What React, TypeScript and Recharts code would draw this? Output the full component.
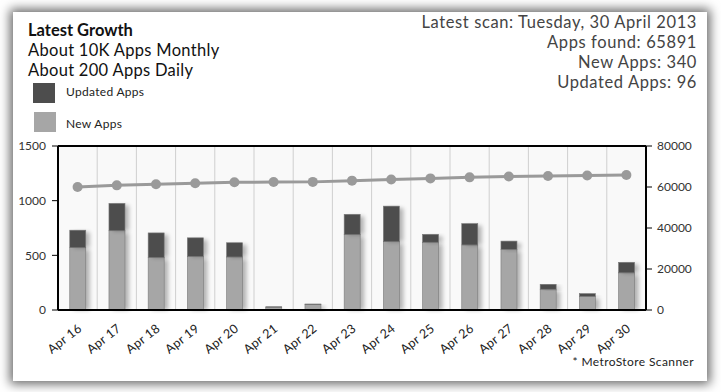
import React from 'react';
import { ComposedChart, Bar, Line, XAxis, YAxis, CartesianGrid, ReferenceLine } from 'recharts';

const days = ['Apr 16', 'Apr 17', 'Apr 18', 'Apr 19', 'Apr 20', 'Apr 21', 'Apr 22', 'Apr 23', 'Apr 24', 'Apr 25', 'Apr 26', 'Apr 27', 'Apr 28', 'Apr 29', 'Apr 30'];
const newApps = [570, 725, 480, 490, 485, 25, 50, 690, 625, 620, 595, 555, 190, 125, 340];
const updatedApps = [160, 250, 225, 170, 130, 5, 5, 185, 325, 72, 195, 75, 45, 25, 96];
const appsFound = [60000, 60800, 61300, 61800, 62300, 62400, 62500, 63100, 63700, 64200, 64700, 65100, 65400, 65600, 65891];
const leftTicks = [0, 500, 1000, 1500];
const rightTicks = [0, 20000, 40000, 60000, 80000];

const data = days.map((d, i) => ({ day: d, newApps: newApps[i], updated: updatedApps[i], found: appsFound[i] }));

const FONT = "Lato, 'DejaVu Sans', sans-serif";

const ShadowRect = (props: any) => {
  const { x, y, width, height, fill } = props;
  if (!height || height <= 0) return null;
  return (
    <g>
      <defs>
        <filter id="barBlur" x="-50%" y="-50%" width="200%" height="200%">
          <feGaussianBlur stdDeviation="2" />
        </filter>
      </defs>
      <rect x={x + 4} y={y + 2} width={width} height={height - 2} fill="#000" opacity={0.28} filter="url(#barBlur)" />
      <rect x={x} y={y} width={width} height={height} fill={fill} stroke="#7a7a7a" strokeWidth={0.6} />
    </g>
  );
};

const XTick = (props: any) => {
  const { x, y, payload } = props;
  const ax = x + 5;
  const ay = y + 12;
  return (
    <text x={ax} y={ay} textAnchor="end" transform={`rotate(-38 ${ax} ${ay})`} fontSize={12.5} fill="#222" fontFamily={FONT} letterSpacing={0.3}>
      {payload.value}
    </text>
  );
};

const gridGen = (p: any) => {
  const off = p.offset;
  const n = days.length;
  const out: number[] = [];
  for (let i = 1; i < n; i++) out.push(off.left + (i * off.width) / n);
  return out;
};

export default function App() {
  return (
    <div style={{ position: 'absolute', left: 0, top: 0, width: 721, height: 392, background: '#fff', overflow: 'hidden', fontFamily: FONT }}>
      <div style={{ position: 'absolute', left: 13, top: 12, width: 694, height: 369, background: '#fff', boxShadow: '0 0 10px 3px rgba(0,0,0,0.6)' }} />
      <div style={{ position: 'absolute', left: 28, top: 20, color: '#111', fontSize: 16.5, lineHeight: '20px', letterSpacing: 0.3 }}>
        <div style={{ fontWeight: 700, letterSpacing: 0 }}>Latest Growth</div>
        <div>About 10K Apps Monthly</div>
        <div>About 200 Apps Daily</div>
      </div>
      <div style={{ position: 'absolute', left: 33, top: 83, width: 22, height: 20, background: '#4d4d4d' }} />
      <div style={{ position: 'absolute', left: 66, top: 84, fontSize: 12, color: '#222', letterSpacing: 0.3 }}>Updated Apps</div>
      <div style={{ position: 'absolute', left: 34, top: 112, width: 22, height: 20, background: '#a6a6a6' }} />
      <div style={{ position: 'absolute', left: 66, top: 116, fontSize: 12, color: '#222', letterSpacing: 0.3 }}>New Apps</div>
      <div style={{ position: 'absolute', right: 24, top: 12, textAlign: 'right', color: '#444', fontSize: 16.5, lineHeight: '20px', letterSpacing: 0.6 }}>
        <div>Latest scan: Tuesday, 30 April 2013</div>
        <div>Apps found: 65891</div>
        <div>New Apps: 340</div>
        <div>Updated Apps: 96</div>
      </div>
      <div style={{ position: 'absolute', right: 27, top: 354, fontSize: 12, color: '#222', letterSpacing: 0.4 }}>* MetroStore Scanner</div>
      <div style={{ position: 'absolute', left: 0, top: 0 }}>
        <ComposedChart width={721} height={392} data={data} margin={{ top: 146, right: 15, bottom: 32, left: 8 }} barCategoryGap="30%">
          <CartesianGrid horizontal={false} vertical={true} stroke="#cfcfcf" fill="#f9f9f9" verticalCoordinatesGenerator={gridGen} />
          <XAxis dataKey="day" xAxisId="x" height={50} axisLine={{ stroke: '#000', strokeWidth: 2 }} tickLine={false} tick={<XTick />} interval={0} />
          <YAxis yAxisId="left" width={50} domain={[0, 1500]} ticks={leftTicks} axisLine={{ stroke: '#000', strokeWidth: 2 }} tickLine={{ stroke: '#000' }} tickSize={6} tickMargin={6} tick={{ fontSize: 12, fill: '#333', fontFamily: FONT }} />
          <YAxis yAxisId="right" orientation="right" width={60} domain={[0, 80000]} ticks={rightTicks} axisLine={{ stroke: '#000', strokeWidth: 2 }} tickLine={{ stroke: '#000' }} tickSize={6} tickMargin={5} tick={{ fontSize: 12, fill: '#333', fontFamily: FONT }} />
          <ReferenceLine yAxisId="left" xAxisId="x" y={1500} stroke="#000" strokeWidth={2} />
          <Bar xAxisId="x" yAxisId="left" dataKey="newApps" stackId="a" fill="#a6a6a6" shape={<ShadowRect />} isAnimationActive={false} />
          <Bar xAxisId="x" yAxisId="left" dataKey="updated" stackId="a" fill="#4d4d4d" shape={<ShadowRect />} isAnimationActive={false} />
          <Line xAxisId="x" yAxisId="right" dataKey="found" stroke="#9a9a9a" strokeWidth={3} dot={{ r: 5, fill: '#9a9a9a', stroke: '#9a9a9a', strokeWidth: 0 }} activeDot={false} isAnimationActive={false} />
        </ComposedChart>
      </div>
    </div>
  );
}
